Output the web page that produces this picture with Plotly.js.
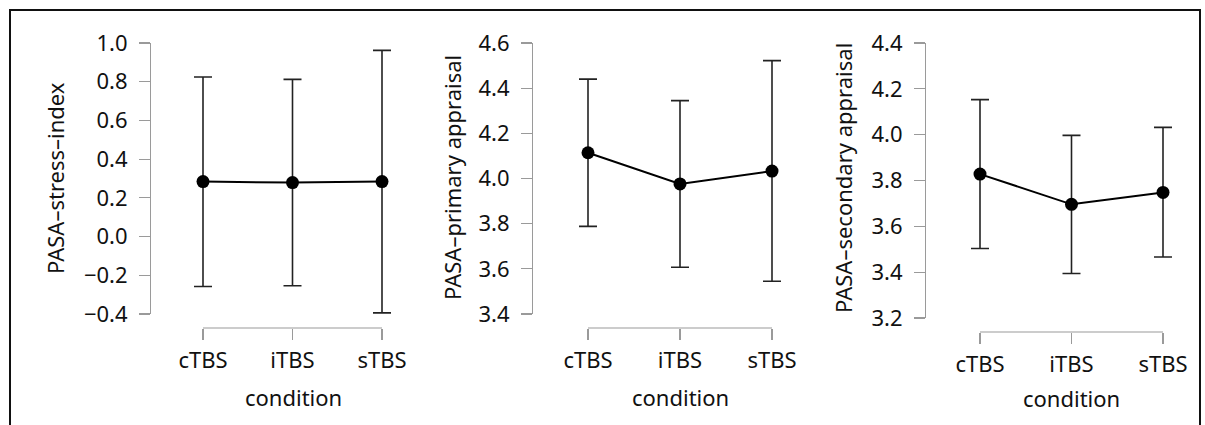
<!DOCTYPE html>
<html>
<head>
<meta charset="utf-8">
<script src="https://cdn.plot.ly/plotly-3.0.1.min.js"></script>
<style>html,body{margin:0;padding:0;background:#fff;}#chart{width:1205px;height:425px;}</style>
</head>
<body>
<div id="chart"></div>
<script>
const categories = ['cTBS', 'iTBS', 'sTBS'];
const xTitle = 'condition';
const yTitles = ['PASA–stress–index', 'PASA–primary appraisal', 'PASA–secondary appraisal'];

const stressMean  = [0.284, 0.279, 0.284];
const stressUpper = [0.824, 0.812, 0.962];
const stressLower = [-0.258, -0.254, -0.394];

const primaryMean  = [4.114, 3.976, 4.033];
const primaryUpper = [4.440, 4.345, 4.522];
const primaryLower = [3.788, 3.607, 3.545];

const secondaryMean  = [3.828, 3.696, 3.748];
const secondaryUpper = [4.153, 3.997, 4.032];
const secondaryLower = [3.503, 3.394, 3.466];

const W = 1205, H = 425;
const px = x => x / W;
const py = y => 1 - y / H;
const FONT = 'Noto Sans, DejaVu Sans, sans-serif';
const AXC = '#9a9a9a';
const PAD = 0.1;

function trace(mean, upper, lower, xa, ya) {
  return {
    type: 'scatter', mode: 'lines+markers',
    x: categories, y: mean, xaxis: xa, yaxis: ya,
    line: {color: '#000', width: 2},
    marker: {color: '#000', size: 13},
    cliponaxis: false,
    error_y: {
      type: 'data', symmetric: false,
      array: upper.map((u, i) => u - mean[i]),
      arrayminus: lower.map((l, i) => mean[i] - l),
      color: '#222', thickness: 1.6, width: 9
    },
    showlegend: false, hoverinfo: 'x+y'
  };
}

const data = [
  trace(stressMean, stressUpper, stressLower, 'x', 'y'),
  trace(primaryMean, primaryUpper, primaryLower, 'x2', 'y2'),
  trace(secondaryMean, secondaryUpper, secondaryLower, 'x3', 'y3')
];

function xAxis(x0, x1, yLine) {
  const unit = (x1 - x0) / 2;
  return {
    type: 'category',
    domain: [px(x0 - PAD * unit), px(x1 + PAD * unit)], range: [-PAD, 2 + PAD],
    anchor: 'free', position: py(yLine),
    showline: false,
    ticks: 'outside', ticklen: 11, tickcolor: AXC, tickwidth: 1.2,
    showgrid: false, zeroline: false, fixedrange: true,
    tickfont: {family: FONT, size: 22, color: '#111'},
    ticklabelstandoff: 2
  };
}
function yAxis(yTop, yBot, xLine, range, dtick) {
  return {
    domain: [py(yBot), py(yTop)], range: range,
    anchor: 'free', position: px(xLine),
    showline: true, linecolor: AXC, linewidth: 1.2,
    ticks: 'outside', ticklen: 11, tickcolor: AXC, tickwidth: 1.2,
    tick0: range[0], dtick: dtick, tickformat: '.1f',
    showgrid: false, zeroline: false, fixedrange: true,
    tickfont: {family: FONT, size: 22, color: '#111'},
    ticklabelstandoff: 7
  };
}

function ann(text, x, y, angle) {
  return {
    text: text, xref: 'paper', yref: 'paper', x: px(x), y: py(y),
    xanchor: 'center', yanchor: 'middle', showarrow: false,
    textangle: angle, font: {family: FONT, size: 22, color: '#111'}
  };
}
function xLine(xref, yLine) {
  return {
    type: 'line', xref: xref, yref: 'paper',
    x0: categories[0], x1: categories[categories.length - 1],
    y0: py(yLine), y1: py(yLine),
    line: {color: AXC, width: 1.2}
  };
}

const layout = {
  width: W, height: H,
  margin: {l: 0, r: 0, t: 0, b: 0},
  paper_bgcolor: '#fff', plot_bgcolor: 'rgba(0,0,0,0)',
  xaxis:  xAxis(203, 382, 328),
  yaxis:  yAxis(43, 314, 150, [-0.4, 1.0], 0.2),
  xaxis2: xAxis(588, 772, 328),
  yaxis2: yAxis(43, 314, 532, [3.4, 4.6], 0.2),
  xaxis3: xAxis(980, 1163, 332),
  yaxis3: yAxis(43, 318, 925, [3.2, 4.4], 0.2),
  annotations: [
    ann(yTitles[0], 55, 178, -90),
    ann(yTitles[1], 452, 178, -90),
    ann(yTitles[2], 843, 178, -90),
    ann(xTitle, 293, 397, 0),
    ann(xTitle, 680, 397, 0),
    ann(xTitle, 1071, 398, 0)
  ],
  shapes: [
    xLine('x', 328), xLine('x2', 328), xLine('x3', 332),
    {
      type: 'path', xref: 'paper', yref: 'paper',
      path: `M ${px(10)},${py(440)} L ${px(10)},${py(10)} L ${px(1200)},${py(10)} L ${px(1200)},${py(440)}`,
      line: {color: '#111', width: 2}
    }
  ]
};

Plotly.newPlot('chart', data, layout, {displayModeBar: false, staticPlot: true});
</script>
</body>
</html>
